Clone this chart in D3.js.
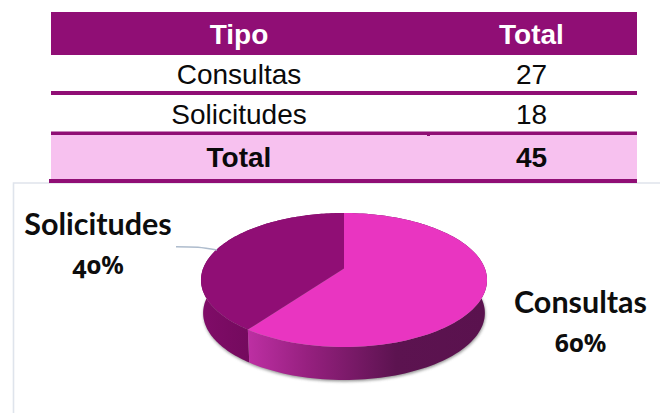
<!DOCTYPE html>
<html>
<head>
<meta charset="utf-8">
<script src="https://cdn.jsdelivr.net/npm/d3@7"></script>
<style>
  html, body { margin: 0; padding: 0; background: #fff; }
  svg { display: block; }
  .cell { font-family: "Liberation Sans", Arial, sans-serif; font-size: 28px; text-anchor: middle; }
  .lbl { font-family: Lato, "Open Sans", sans-serif; font-weight: 700; font-size: 30.5px; text-anchor: middle; fill: #0d0d0d; }
  .pct { font-family: "Noto Sans", Lato, sans-serif; font-weight: 700; font-size: 25px; text-anchor: middle; fill: #0d0d0d;
         font-variant-numeric: oldstyle-nums; font-feature-settings: "onum" 1; }
</style>
</head>
<body>
<div id="chart"></div>
<script>
// Data
var categories = ['Consultas', 'Solicitudes'];
var totals     = [27, 18];
var headers    = ['Tipo', 'Total'];
var total_row  = ['Total', 45];

var width = 660, height = 413;
var dark = '#900e75', pink = '#e935c1', light = '#f7c1ef';

var svg = d3.select('#chart').append('svg')
    .attr('width', width)
    .attr('height', height);

var defs = svg.append('defs');

// Side shading of the big slice
var grad = defs.append('linearGradient')
    .attr('id', 'side-big')
    .attr('gradientUnits', 'userSpaceOnUse')
    .attr('x1', 248).attr('x2', 487).attr('y1', 0).attr('y2', 0);
grad.append('stop').attr('offset', '0').attr('stop-color', '#bd2fa3');
grad.append('stop').attr('offset', '0.25').attr('stop-color', '#96207f');
grad.append('stop').attr('offset', '0.62').attr('stop-color', '#5c1350');
grad.append('stop').attr('offset', '1').attr('stop-color', '#5a124e');

var grad2 = defs.append('linearGradient')
    .attr('id', 'side-small')
    .attr('gradientUnits', 'userSpaceOnUse')
    .attr('x1', 201).attr('x2', 248).attr('y1', 0).attr('y2', 0);
grad2.append('stop').attr('offset', '0').attr('stop-color', '#800c68');
grad2.append('stop').attr('offset', '1').attr('stop-color', '#740a5e');

defs.append('filter')
    .attr('id', 'blur')
    .attr('x', '-10%').attr('y', '-10%').attr('width', '120%').attr('height', '120%')
    .append('feGaussianBlur').attr('stdDeviation', 1.5);

// Chart frame, sits behind the table
svg.append('path')
    .attr('d', 'M13.5,' + height + 'V183H' + width)
    .attr('fill', 'none')
    .attr('stroke', '#dfe4ec')
    .attr('stroke-width', 1.6);

// Table
var table_x0 = 51, table_x1 = 637;
var col_x = [239, 531.5];
var rows = [
    { y: 12, h: 43, cells: headers, bold: true, color: '#fff', bg: dark, text_y: 44 },
    { y: 55, h: 37, cells: [categories[0], totals[0]], color: '#0a0a0a', bg: '#fff', text_y: 84 },
    { y: 95, h: 37, cells: [categories[1], totals[1]], color: '#0a0a0a', bg: '#fff', text_y: 124 },
    { y: 135, h: 45, cells: total_row, bold: true, color: '#0a0a0a', bg: light, text_y: 167 }
];

var table = svg.append('g').attr('class', 'table');

table.selectAll('rect.bg')
    .data(rows)
    .enter()
    .append('rect')
    .attr('class', 'bg')
    .attr('x', table_x0)
    .attr('y', function(d){ return d.y; })
    .attr('width', table_x1 - table_x0)
    .attr('height', function(d){ return d.h; })
    .attr('fill', function(d){ return d.bg; });

// Row rules
var rules = [
    { x: table_x0, y: 91, h: 4 },
    { x: table_x0, y: 131.5, h: 3.5 },
    { x: 49, y: 179, h: 4 }
];
table.selectAll('rect.rule')
    .data(rules)
    .enter()
    .append('rect')
    .attr('class', 'rule')
    .attr('x', function(d){ return d.x; })
    .attr('y', function(d){ return d.y; })
    .attr('width', function(d){ return table_x1 - d.x; })
    .attr('height', function(d){ return d.h; })
    .attr('fill', dark);

table.append('rect')
    .attr('x', 427).attr('y', 135).attr('width', 3).attr('height', 1)
    .attr('fill', dark);

rows.forEach(function(row){
    table.selectAll(null)
        .data(row.cells)
        .enter()
        .append('text')
        .attr('class', 'cell')
        .attr('x', function(d, i){ return col_x[i]; })
        .attr('y', row.text_y)
        .attr('font-weight', row.bold ? 700 : 400)
        .attr('fill', row.color)
        .text(function(d){ return d; });
});

// Pie in perspective
var apex_x = 344, apex_y = 268.5;
var rad_x = 140.9, rad_y = 65, persp = 0.1716;
var depth = 33, base_shrink = 0.985;

function project(angle) {
    var u = Math.sin(angle), v = -Math.cos(angle);
    var w = 1 - persp * v;
    return [apex_x + rad_x * u / w, apex_y + rad_y * v / w];
}
function project_base(angle) {
    var p = project(angle);
    return [apex_x + (p[0] - apex_x) * base_shrink, p[1] + depth];
}
function arc_points(a0, a1, fn) {
    return d3.range(0, 121).map(function(i){
        return fn(a0 + (a1 - a0) * i / 120);
    });
}

var line = d3.line();
var slices = d3.pie().sort(null)(totals);
var top_colors = [pink, dark];
var side_colors = ['url(#side-big)', 'url(#side-small)'];

var pie = svg.append('g').attr('class', 'pie');

// Soft shadow under the base
pie.append('path')
    .attr('d', line(arc_points(0, Math.PI * 2, project_base)) + 'Z')
    .attr('transform', 'translate(0.5,1.5)')
    .attr('fill', '#666')
    .attr('opacity', 0.7)
    .attr('filter', 'url(#blur)');

// Sides, small slice first
pie.selectAll('path.side')
    .data(slices.slice().reverse())
    .enter()
    .append('path')
    .attr('class', 'side')
    .attr('d', function(d){
        var top_edge = arc_points(d.startAngle, d.endAngle, project);
        var base_edge = arc_points(d.startAngle, d.endAngle, project_base).reverse();
        return line(top_edge.concat(base_edge)) + 'Z';
    })
    .attr('fill', function(d){ return side_colors[d.index]; });

// Top faces
pie.selectAll('path.face')
    .data(slices)
    .enter()
    .append('path')
    .attr('class', 'face')
    .attr('d', function(d){
        return line([[apex_x, apex_y]].concat(arc_points(d.startAngle, d.endAngle, project))) + 'Z';
    })
    .attr('fill', function(d){ return top_colors[d.index]; });

// Leader line for the small slice
var leader_x = [176, 198, 217], leader_y = [246.7, 247.3, 250];
svg.append('path')
    .attr('d', d3.line().curve(d3.curveCatmullRom)(leader_x.map(function(x, i){ return [x, leader_y[i]]; })))
    .attr('fill', 'none')
    .attr('stroke', '#aebccd')
    .attr('stroke-width', 1.4);

// Data labels
var sum = d3.sum(totals);
var label_pos = [{ x: 580.5, y: 313 }, { x: 98, y: 235 }];
var labels = svg.append('g').attr('class', 'labels');

categories.forEach(function(c, i){
    labels.append('text').attr('class', 'lbl')
        .attr('x', label_pos[i].x).attr('y', label_pos[i].y)
        .text(c);
    labels.append('text').attr('class', 'pct')
        .attr('x', label_pos[i].x).attr('y', label_pos[i].y + 39)
        .text(d3.format('.0%')(totals[i] / sum));
});
</script>
</body>
</html>
